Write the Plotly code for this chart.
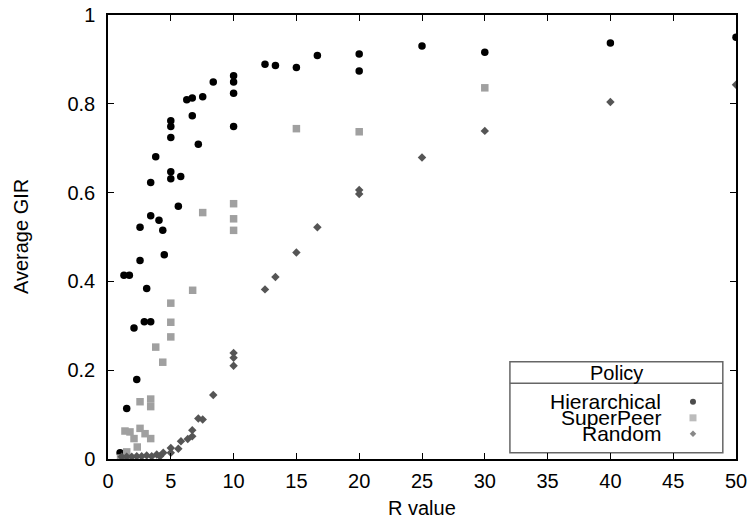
import plotly.graph_objects as go

# ---- data ----
hier_x = [0.96, 1.27, 1.7, 1.49, 2.07, 2.29, 2.55, 2.55, 2.89, 3.4, 3.08, 3.4, 3.4, 3.8,
          4.06, 4.36, 4.48, 5.0, 5.0, 5.0, 5.0, 5.0, 5.6, 5.79, 6.27, 6.71, 6.71, 7.19,
          7.54, 8.38, 10, 10, 10, 10, 12.5, 13.33, 15, 16.67, 20, 20, 25, 30, 40, 50]
hier_y = [0.014, 0.414, 0.414, 0.114, 0.295, 0.179, 0.447, 0.522, 0.309, 0.309, 0.384,
          0.548, 0.623, 0.681, 0.538, 0.515, 0.46, 0.762, 0.749, 0.724, 0.647, 0.631,
          0.569, 0.636, 0.809, 0.813, 0.773, 0.709, 0.816, 0.849, 0.863, 0.849, 0.824,
          0.749, 0.889, 0.886, 0.882, 0.909, 0.912, 0.874, 0.93, 0.916, 0.937, 0.95]

sp_x = [10, 10, 10, 7.54, 6.74, 5.0, 5.0, 5.0, 3.8, 4.36, 3.4, 3.4, 2.55, 1.35, 1.75,
        2.55, 2.95, 3.4, 2.07, 2.33, 1.49, 1.22, 1.0, 15, 20, 30]
sp_y = [0.575, 0.541, 0.515, 0.555, 0.38, 0.351, 0.308, 0.275, 0.252, 0.218, 0.135,
        0.118, 0.129, 0.063, 0.061, 0.069, 0.057, 0.046, 0.046, 0.027, 0.016, 0.0,
        0.002, 0.744, 0.737, 0.836]

rnd_x = [1.09, 1.49, 1.89, 2.29, 2.68, 3.08, 3.48, 3.88, 4.14, 4.4, 5.0, 5.0, 5.6, 5.81,
         6.35, 6.71, 6.71, 7.19, 7.54, 8.38, 10, 10, 10, 12.5, 13.33, 15, 16.67, 20, 20,
         25, 30, 40, 50]
rnd_y = [0.005, 0.005, 0.005, 0.006, 0.006, 0.008, 0.006, 0.01, 0.006, 0.014, 0.025,
         0.014, 0.023, 0.04, 0.045, 0.051, 0.065, 0.091, 0.089, 0.144, 0.239, 0.228,
         0.21, 0.382, 0.41, 0.465, 0.522, 0.606, 0.597, 0.679, 0.739, 0.804, 0.843]

series_names = ["Hierarchical", "SuperPeer", "Random"]
series_colors = ["#000000", "#a0a0a0", "#555555"]
series_symbols = ["circle", "square", "diamond"]
series_sizes = [7.5, 7.5, 6.5]
legend_sizes = [6, 7, 5]

x_ticks = list(range(0, 51, 5))
y_ticks = [0, 0.2, 0.4, 0.6, 0.8, 1]
y_tick_labels = ["0", "0.2", "0.4", "0.6", "0.8", "1"]
x_title = "R value"
y_title = "Average GIR"
legend_title = "Policy"

FONT = "Liberation Sans, Arial, Helvetica, sans-serif"

fig = go.Figure()
for name, xs, ys, col, sym, sz in zip(series_names, [hier_x, sp_x, rnd_x],
                                      [hier_y, sp_y, rnd_y], series_colors,
                                      series_symbols, series_sizes):
    fig.add_trace(go.Scatter(x=xs, y=ys, mode="markers", name=name, showlegend=False,
                             marker=dict(symbol=sym, size=sz, color=col,
                                         line=dict(width=0))))

# ---- hand-drawn gnuplot-style legend box ----
bx0, bx1, by0, by1, bdiv = 0.640, 0.979, 0.014, 0.219, 0.1705
row_y0, row_step = 0.1287, 0.036
text_x, mark_x = 0.884, 0.9315
box_col = "#666666"
fig.add_shape(type="rect", xref="paper", yref="paper", x0=bx0, x1=bx1, y0=by0, y1=by1,
              line=dict(color=box_col, width=1.5), fillcolor="white", layer="below")
fig.add_shape(type="line", xref="paper", yref="paper", x0=bx0, x1=bx1, y0=bdiv, y1=bdiv,
              line=dict(color=box_col, width=1.5), layer="below")
fig.add_annotation(xref="paper", yref="paper", x=(bx0 + bx1) / 2, y=(by1 + bdiv) / 2,
                   text=legend_title, showarrow=False, xanchor="center", yanchor="middle",
                   font=dict(family=FONT, size=20, color="black"))
leg_y = []
for i, name in enumerate(series_names):
    yy = row_y0 - i * row_step
    leg_y.append(yy)
    fig.add_annotation(xref="paper", yref="paper", x=text_x, y=yy, text=name,
                       showarrow=False, xanchor="right", yanchor="middle",
                       font=dict(family=FONT, size=21, color="black"))
fig.add_trace(go.Scatter(x=[mark_x] * 3, y=leg_y, xaxis="x2", yaxis="y2", mode="markers",
                         showlegend=False, hoverinfo="skip",
                         marker=dict(symbol=series_symbols, size=legend_sizes,
                                     color=series_colors, line=dict(width=0))))

# axis titles as annotations for precise placement
fig.add_annotation(xref="paper", yref="paper", x=0.5, y=-0.111, text=x_title,
                   showarrow=False, xanchor="center", yanchor="middle",
                   font=dict(family=FONT, size=20, color="black"))
fig.add_annotation(xref="paper", yref="paper", x=-0.1385, y=0.5, text=y_title,
                   textangle=-90, showarrow=False, xanchor="center", yanchor="middle",
                   font=dict(family=FONT, size=20, color="black"))

axis_common = dict(showline=True, linecolor="black", linewidth=1.5, mirror="allticks",
                   ticks="inside", ticklen=6, tickwidth=1.2, tickcolor="black",
                   showgrid=False, zeroline=False, automargin=False,
                   tickfont=dict(family=FONT, size=20, color="black"))

fig.update_layout(
    width=750, height=523,
    margin=dict(l=108, r=14, t=15, b=64),
    paper_bgcolor="white", plot_bgcolor="white",
    font=dict(family=FONT, color="black"),
    xaxis=dict(range=[0, 50], tickvals=x_ticks, ticklabelstandoff=3, **axis_common),
    yaxis=dict(range=[0, 1], tickvals=y_ticks, ticktext=y_tick_labels,
               ticklabelstandoff=7, **axis_common),
    xaxis2=dict(range=[0, 1], overlaying="x", visible=False, fixedrange=True),
    yaxis2=dict(range=[0, 1], overlaying="y", visible=False, fixedrange=True),
    showlegend=False,
)

fig.write_html("out.html", config={"displayModeBar": False},
               post_script="document.body.style.margin='0';"
                           "document.body.style.overflow='hidden';")
